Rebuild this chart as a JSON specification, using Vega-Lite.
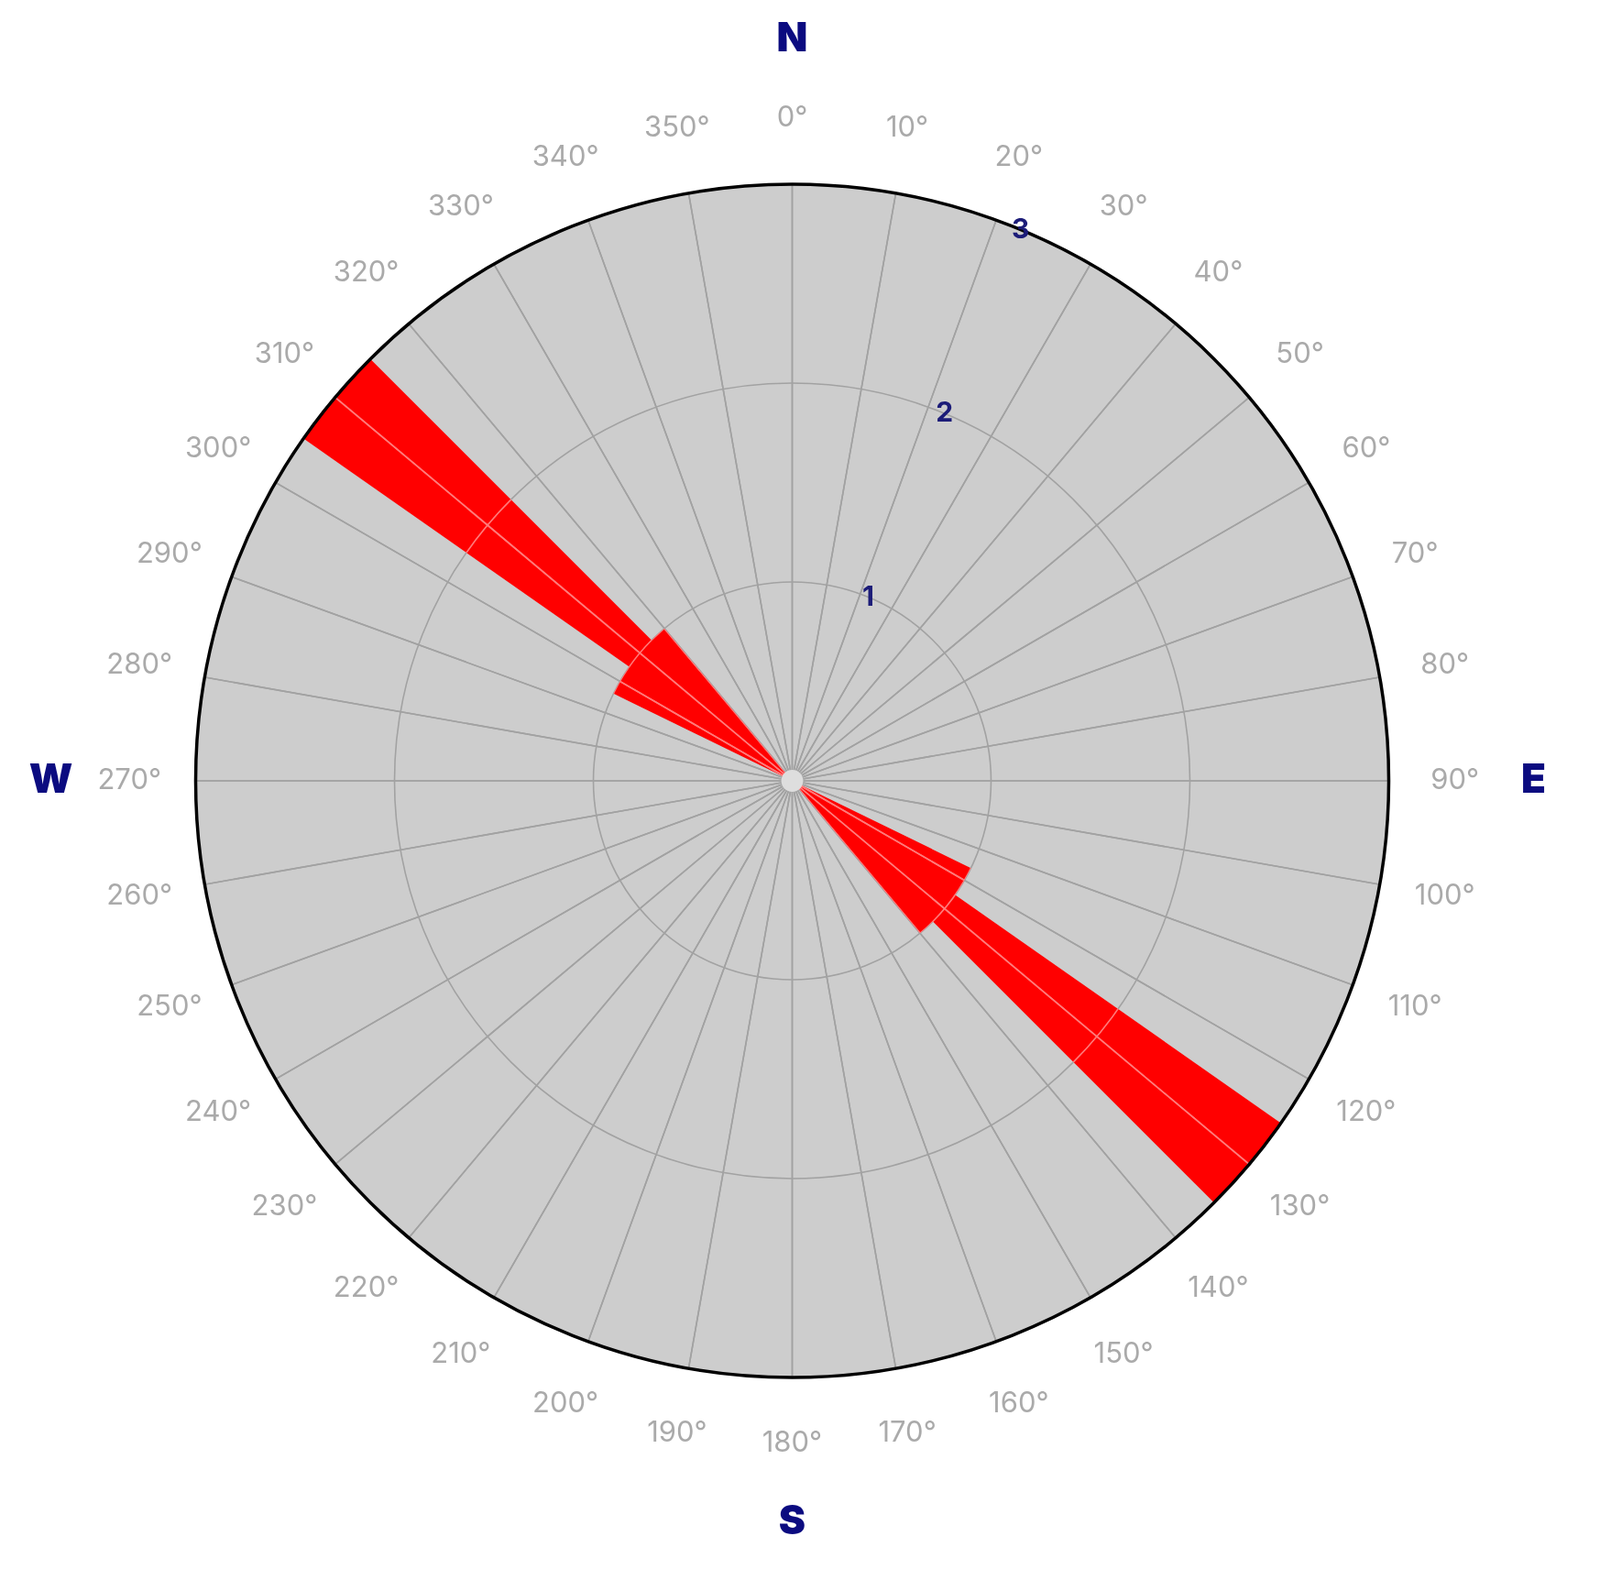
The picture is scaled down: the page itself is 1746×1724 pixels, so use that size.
{
  "$schema": "https://vega.github.io/schema/vega-lite/v6.json",
  "width": 1729,
  "height": 1704,
  "padding": {"left": 0, "top": 0, "right": 17, "bottom": 20},
  "autosize": {"type": "none"},
  "background": "white",
  "view": {"stroke": null},
  "datasets": {
    "ticks": [
      {"a": 0, "b": 10, "t": "0°"}, {"a": 10, "b": 20, "t": "10°"}, {"a": 20, "b": 30, "t": "20°"},
      {"a": 30, "b": 40, "t": "30°"}, {"a": 40, "b": 50, "t": "40°"}, {"a": 50, "b": 60, "t": "50°"},
      {"a": 60, "b": 70, "t": "60°"}, {"a": 70, "b": 80, "t": "70°"}, {"a": 80, "b": 90, "t": "80°"},
      {"a": 90, "b": 100, "t": "90°"}, {"a": 100, "b": 110, "t": "100°"}, {"a": 110, "b": 120, "t": "110°"},
      {"a": 120, "b": 130, "t": "120°"}, {"a": 130, "b": 140, "t": "130°"}, {"a": 140, "b": 150, "t": "140°"},
      {"a": 150, "b": 160, "t": "150°"}, {"a": 160, "b": 170, "t": "160°"}, {"a": 170, "b": 180, "t": "170°"},
      {"a": 180, "b": 190, "t": "180°"}, {"a": 190, "b": 200, "t": "190°"}, {"a": 200, "b": 210, "t": "200°"},
      {"a": 210, "b": 220, "t": "210°"}, {"a": 220, "b": 230, "t": "220°"}, {"a": 230, "b": 240, "t": "230°"},
      {"a": 240, "b": 250, "t": "240°"}, {"a": 250, "b": 260, "t": "250°"}, {"a": 260, "b": 270, "t": "260°"},
      {"a": 270, "b": 280, "t": "270°"}, {"a": 280, "b": 290, "t": "280°"}, {"a": 290, "b": 300, "t": "290°"},
      {"a": 300, "b": 310, "t": "300°"}, {"a": 310, "b": 320, "t": "310°"}, {"a": 320, "b": 330, "t": "320°"},
      {"a": 330, "b": 340, "t": "330°"}, {"a": 340, "b": 350, "t": "340°"}, {"a": 350, "b": 360, "t": "350°"}
    ],
    "bars": [
      {"start": 116, "end": 140, "count": 1},
      {"start": 296, "end": 320, "count": 1},
      {"start": 125, "end": 135, "count": 3},
      {"start": 305, "end": 315, "count": 3}
    ]
  },
  "layer": [
    {
      "data": {"values": [{"s": 0, "e": 360}]},
      "mark": {"type": "arc", "fill": "#cdcdcd"},
      "encoding": {
        "theta": {"field": "s", "type": "quantitative", "stack": null, "scale": {"domain": [0, 360], "range": [0, 6.283185307179586]}},
        "theta2": {"field": "e"},
        "radius": {"datum": 3, "type": "quantitative", "stack": null, "scale": {"type": "linear", "domain": [0, 3], "range": [0, 651], "zero": true}}
      }
    },
    {
      "data": {"name": "bars"},
      "mark": {"type": "arc", "fill": "#ff0000"},
      "encoding": {
        "theta": {"field": "start", "type": "quantitative", "stack": null},
        "theta2": {"field": "end"},
        "radius": {"field": "count", "type": "quantitative", "stack": null}
      }
    },
    {
      "data": {"name": "ticks"},
      "mark": {"type": "arc", "fill": "transparent", "stroke": "#a2a2a2", "strokeWidth": 1.6, "blend": "luminosity"},
      "encoding": {
        "theta": {"field": "a", "type": "quantitative", "stack": null},
        "theta2": {"field": "b"},
        "radius": {"datum": 3, "type": "quantitative", "stack": null}
      }
    },
    {
      "data": {"values": [{"r": 1}, {"r": 2}]},
      "mark": {"type": "arc", "fill": "transparent", "stroke": "#a2a2a2", "strokeWidth": 1.6, "blend": "luminosity"},
      "encoding": {
        "theta": {"datum": 0, "type": "quantitative", "stack": null},
        "theta2": {"datum": 360},
        "radius": {"field": "r", "type": "quantitative", "stack": null}
      }
    },
    {
      "data": {"values": [{"r": 3}]},
      "mark": {"type": "arc", "fill": "transparent", "stroke": "#000000", "strokeWidth": 3.5},
      "encoding": {
        "theta": {"datum": 0, "type": "quantitative", "stack": null},
        "theta2": {"datum": 360},
        "radius": {"field": "r", "type": "quantitative", "stack": null}
      }
    },
    {
      "data": {"values": [{"r": 0.055}]},
      "mark": {"type": "arc", "fill": "#dedede"},
      "encoding": {
        "theta": {"datum": 0, "type": "quantitative", "stack": null},
        "theta2": {"datum": 360},
        "radius": {"field": "r", "type": "quantitative", "stack": null}
      }
    },
    {
      "data": {"name": "ticks"},
      "mark": {"type": "text", "font": "Inter", "fontSize": 31, "color": "#aaaaaa", "align": "center", "baseline": "middle"},
      "encoding": {
        "theta": {"field": "a", "type": "quantitative", "stack": null},
        "radius": {"datum": 3.333, "type": "quantitative", "stack": null},
        "text": {"field": "t"}
      }
    },
    {
      "data": {"values": [{"a": 0, "t": "N"}, {"a": 90, "t": "E"}, {"a": 180, "t": "S"}, {"a": 270, "t": "W"}]},
      "mark": {"type": "text", "font": "Inter", "fontSize": 44, "fontWeight": 900, "color": "#0b0b80", "align": "center", "baseline": "middle"},
      "encoding": {
        "theta": {"field": "a", "type": "quantitative", "stack": null},
        "radius": {"datum": 3.728, "type": "quantitative", "stack": null},
        "text": {"field": "t"}
      }
    },
    {
      "data": {"values": [{"r": 1, "t": "1"}, {"r": 2, "t": "2"}, {"r": 3, "t": "3"}]},
      "mark": {"type": "text", "font": "Inter", "fontSize": 30, "fontWeight": 700, "color": "#1c1c78", "align": "center", "baseline": "middle"},
      "encoding": {
        "theta": {"datum": 22.5, "type": "quantitative", "stack": null},
        "radius": {"field": "r", "type": "quantitative", "stack": null},
        "text": {"field": "t"}
      }
    }
  ]
}
